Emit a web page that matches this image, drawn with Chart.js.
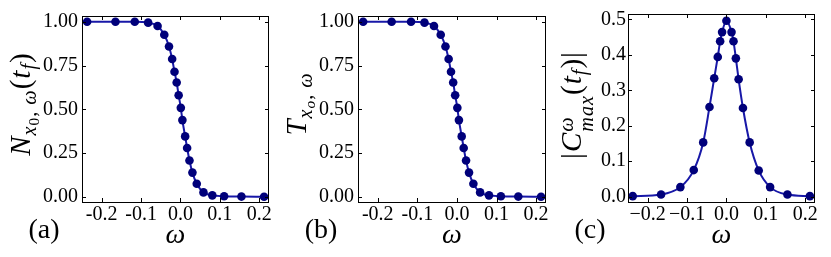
<!DOCTYPE html>
<html>
<head>
<meta charset="utf-8">
<script src="https://cdn.jsdelivr.net/npm/chart.js@4.4.1/dist/chart.umd.min.js"></script>
<style>
  html, body { margin: 0; padding: 0; background: #fff; }
  #wrap { position: relative; width: 831px; height: 257px; overflow: hidden; }
  canvas { position: absolute; top: 0; }
  .ylab, .plab { position: absolute; font-family: "Liberation Serif", serif; color: #000; white-space: nowrap; line-height: 1; }
  .ylab { font-size: 29px; transform: translate(-50%, -50%) rotate(-90deg); letter-spacing: 1px; }
  .plab { font-size: 28px; transform: translate(-50%, -50%); }
  .ylab i { font-style: italic; }
  .ylab sub { font-size: 0.7em; vertical-align: -0.28em; line-height: 0; }
  .ylab sub sub { font-size: 0.75em; vertical-align: -0.2em; }
  .stack { display: inline-flex; flex-direction: column; font-size: 0.7em; line-height: 0.95; vertical-align: 0.38em; font-style: italic; }
</style>
</head>
<body>
<div id="wrap">
  <canvas id="chartA" width="276" height="257" style="left:0px"></canvas>
  <canvas id="chartB" width="277" height="257" style="left:276px"></canvas>
  <canvas id="chartC" width="278" height="257" style="left:553px"></canvas>

  <div class="ylab" style="left:20px; top:104px"><i>N</i><sub><i>x</i><sub>0</sub>, <i>ω</i></sub>(<i>t</i><sub><i>f</i></sub>)</div>
  <div class="ylab" style="left:296px; top:104px"><i>T</i><sub><i>x</i><sub><i>o</i></sub>, <i>ω</i></sub></div>
  <div class="ylab" style="left:576px; top:105px">|<i>C</i><span class="stack"><span>ω</span><span>max</span></span>(<i>t</i><sub><i>f</i></sub>)|</div>

  <div class="plab" style="left:44px; top:229px">(a)</div>
  <div class="plab" style="left:321px; top:229px">(b)</div>
  <div class="plab" style="left:590px; top:229px">(c)</div>
</div>
<script>
// omega grid for panels (a) and (b)
const omegaN = [-0.237, -0.165, -0.116, -0.082, -0.058, -0.041, -0.029, -0.021, -0.015, -0.0095, -0.0045, 0.001,
                0.005, 0.012, 0.017, 0.023, 0.0305, 0.0415, 0.0585, 0.081, 0.111, 0.155, 0.2125];
const occupation = [1.0, 1.0, 1.0, 0.995, 0.976, 0.926, 0.859, 0.787, 0.714, 0.653, 0.58, 0.508,
                    0.438, 0.345, 0.279, 0.207, 0.138, 0.074, 0.025, 0.008, 0.003, 0.001, 0.0];
const transmission = [1.0, 1.0, 1.0, 0.995, 0.976, 0.926, 0.859, 0.787, 0.714, 0.653, 0.58, 0.508,
                      0.438, 0.345, 0.279, 0.207, 0.138, 0.074, 0.025, 0.008, 0.003, 0.001, 0.0];

// omega grid for panel (c)
const omegaC = [-0.238, -0.166, -0.117, -0.083, -0.059, -0.043, -0.031, -0.022, -0.016, -0.011, 0.0,
                0.013, 0.018, 0.024, 0.031, 0.042, 0.059, 0.082, 0.111, 0.155, 0.212];
const concurrence = [0.0015, 0.006, 0.027, 0.075, 0.153, 0.253, 0.334, 0.394, 0.438, 0.464, 0.496,
                     0.464, 0.438, 0.39, 0.331, 0.25, 0.153, 0.074, 0.027, 0.006, 0.0015];

const omegaTicks = [-0.2, -0.1, 0.0, 0.1, 0.2];
const nTicks = [0, 0.25, 0.5, 0.75, 1.0];
const cTicks = [0, 0.1, 0.2, 0.3, 0.4, 0.5];

const LINE = "#1818a8";
const MARK = "#00007a";
const FONT = "'Liberation Serif', serif";

// box + inward ticks on all four sides, like the matplotlib frame
const frame = {
    id: "frame",
    afterDraw(chart) {
        const {ctx, chartArea: a, scales: {x, y}} = chart;
        ctx.save();
        ctx.strokeStyle = "#000";
        ctx.lineWidth = 1;
        ctx.beginPath();
        x.ticks.forEach(t => {
            const px = Math.round(x.getPixelForValue(t.value)) + 0.5;
            ctx.moveTo(px, a.bottom); ctx.lineTo(px, a.bottom - 4);
            ctx.moveTo(px, a.top); ctx.lineTo(px, a.top + 4);
        });
        y.ticks.forEach(t => {
            const py = Math.round(y.getPixelForValue(t.value)) + 0.5;
            ctx.moveTo(a.left, py); ctx.lineTo(a.left + 4, py);
            ctx.moveTo(a.right, py); ctx.lineTo(a.right - 4, py);
        });
        ctx.stroke();
        ctx.strokeRect(a.left + 0.5, a.top + 0.5, a.right - a.left - 1, a.bottom - a.top);
        ctx.restore();
    }
};

function makeChart(id, xs, ys, o) {
    return new Chart(document.getElementById(id), {
        type: "scatter",
        data: {
            datasets: [{
                data: xs.map((v, i) => ({x: v, y: ys[i]})),
                showLine: true,
                borderColor: LINE,
                borderWidth: 2,
                cubicInterpolationMode: "monotone",
                pointRadius: 4.3,
                pointBackgroundColor: MARK,
                pointBorderColor: MARK,
                pointBorderWidth: 0,
                clip: false
            }]
        },
        options: {
            responsive: false,
            animation: false,
            devicePixelRatio: 1,
            layout: {padding: {top: 6, right: o.padRight, bottom: 0, left: 0}},
            plugins: {legend: {display: false}, tooltip: {enabled: false}},
            scales: {
                x: {
                    type: "linear",
                    min: -0.25,
                    max: 0.225,
                    grid: {display: false, drawTicks: false},
                    border: {display: false},
                    afterBuildTicks: s => { s.ticks = omegaTicks.map(v => ({value: v})); },
                    afterFit: s => { s.height = 55; },
                    ticks: {
                        autoSkip: false,
                        maxRotation: 0,
                        minRotation: 0,
                        padding: 1,
                        color: "#000",
                        font: {family: FONT, size: 20},
                        callback: v => o.minus ? v.toFixed(1).replace("-", "\u2212") : v.toFixed(1)
                    },
                    title: {
                        display: true,
                        text: "ω",
                        color: "#000",
                        font: {family: FONT, size: 28, style: "italic", lineHeight: 1},
                        padding: {top: 0, bottom: 7}
                    }
                },
                y: {
                    type: "linear",
                    min: o.yMin,
                    max: o.yMax,
                    grid: {display: false, drawTicks: false},
                    border: {display: false},
                    afterBuildTicks: s => { s.ticks = o.yTicks.map(v => ({value: v})); },
                    afterFit: s => { s.width = o.yWidth; },
                    ticks: {
                        padding: o.yPad,
                        color: "#000",
                        font: {family: FONT, size: 20},
                        callback: v => v.toFixed(o.digits)
                    }
                }
            }
        },
        plugins: [frame]
    });
}

makeChart("chartA", omegaN, occupation,
    {padRight: 7, yWidth: 82, yPad: 4, yMin: -0.03, yMax: 1.033, yTicks: nTicks, digits: 2, minus: false});
makeChart("chartB", omegaN, transmission,
    {padRight: 7, yWidth: 82, yPad: 4, yMin: -0.03, yMax: 1.033, yTicks: nTicks, digits: 2, minus: false});
makeChart("chartC", omegaC, concurrence,
    {padRight: 16, yWidth: 75, yPad: 2, yMin: -0.015, yMax: 0.515, yTicks: cTicks, digits: 1, minus: true});
</script>
</body>
</html>
